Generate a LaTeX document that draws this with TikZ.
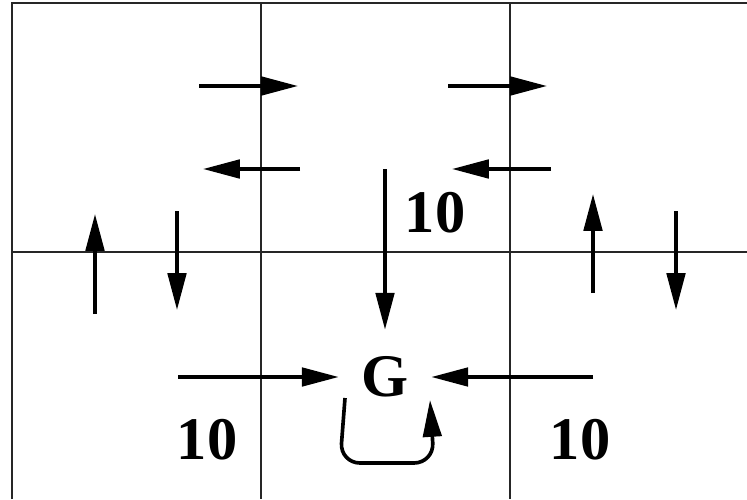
\documentclass[tikz,border=0pt]{standalone}
\usepackage{fontspec}
\setmainfont{Liberation Serif}
\usetikzlibrary{arrows.meta}
\begin{document}
\begin{tikzpicture}[
            x=0.025cm, y=-0.025cm,
            grid/.style={draw=black!85,line width=1.2pt},
            arr/.style={line width=2.6pt,-{Triangle[length=0.92cm,width=0.46cm]}},
            num/.style={font=\fontsize{43}{43}\selectfont\bfseries,inner sep=0pt},
            goal/.style={font=\fontsize{43}{43}\selectfont\bfseries,inner sep=0pt,minimum width=2.3cm,minimum height=2.35cm}
        ]

        \useasboundingbox (0,0) rectangle (747,499);

        \draw[grid] (12,499) -- (12,3) -- (747,3);
        \draw[grid] (261,3) -- (261,499);
        \draw[grid] (510,3) -- (510,499);
        \draw[grid] (12,252) -- (747,252);

        \node[goal] (G) at (385,377) {\raisebox{-0.12cm}{G}};
        \node[num] (cost1) at (435,213) {10};
        \node[num] (cost2) at (207,440) {10};
        \node[num] (cost3) at (580,440) {10};

        \draw[arr] (199,86) -- (298,86);
        \draw[arr] (300,169) -- (203,169);
        \draw[arr] (448,86) -- (547,86);
        \draw[arr] (551,169) -- (452,169);

        \draw[arr] (95,314) -- (95,214);
        \draw[arr] (177,211) -- (177,310);
        \draw[arr] (593,293) -- (593,194);
        \draw[arr] (676,211) -- (676,310);

        \draw[arr] (385,169) -- (G);
        \draw[arr] (178,377) -- (G);
        \draw[arr] (593,377) -- (G);
        \draw[arr,rounded corners=0.5cm] (345,398) -- (340,463) -- (434,463) -- (430,400);

\end{tikzpicture}
\end{document}
